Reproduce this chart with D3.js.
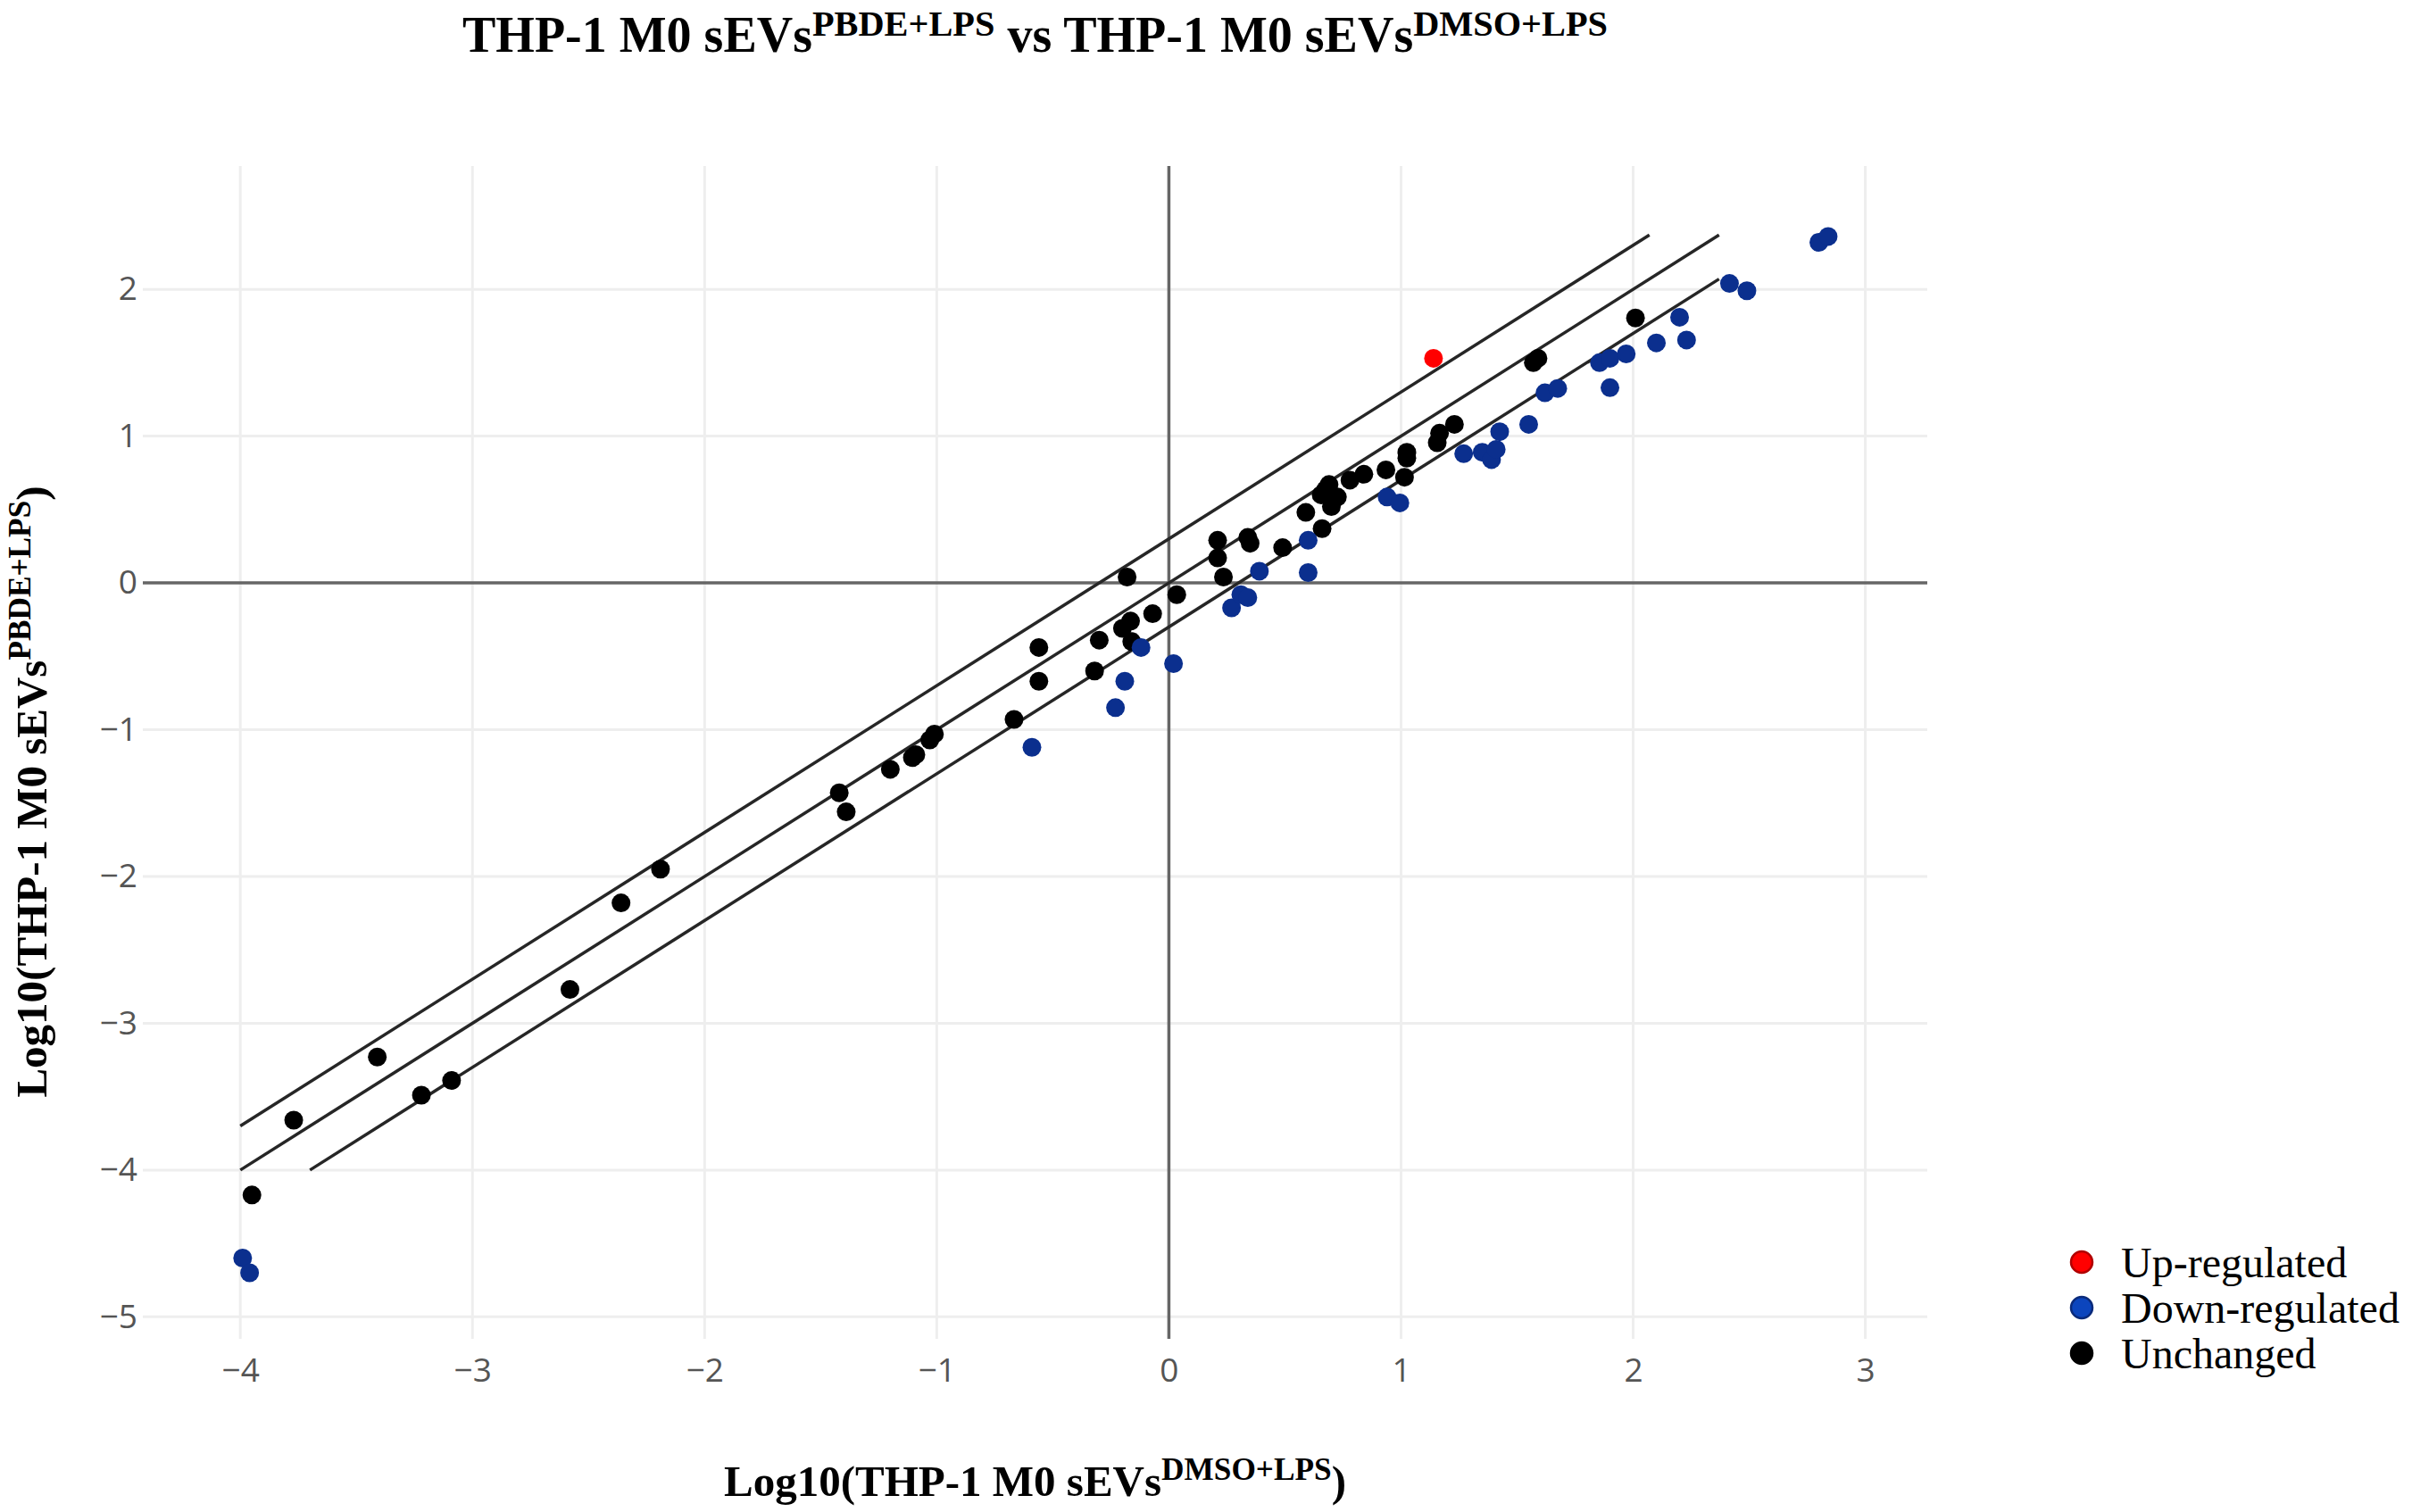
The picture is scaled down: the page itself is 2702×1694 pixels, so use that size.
<!DOCTYPE html>
<html>
<head>
<meta charset="utf-8">
<script src="https://cdn.jsdelivr.net/npm/d3@7"></script>
<style>
  body { margin: 0; background: #fff; }
</style>
</head>
<body>
<div id="chart"></div>
<script>
// values (log10 abundances)
const upX = [1.14]
const upY = [1.53]

const downX = [-3.99, -3.96, -0.59, -0.23, -0.19, -0.12, 0.02, 0.27, 0.31, 0.34, 0.39, 0.60, 0.60, 0.94, 0.995,
  1.27, 1.35, 1.39, 1.41, 1.425, 1.55, 1.62, 1.675, 1.855, 1.90, 1.90, 1.97, 2.10, 2.20, 2.23, 2.415, 2.49, 2.80, 2.84]
const downY = [-4.60, -4.70, -1.12, -0.85, -0.67, -0.44, -0.55, -0.17, -0.08, -0.10, 0.08, 0.29, 0.07, 0.585, 0.545,
  0.88, 0.89, 0.84, 0.91, 1.03, 1.08, 1.295, 1.325, 1.50, 1.53, 1.33, 1.56, 1.635, 1.81, 1.655, 2.04, 1.99, 2.32, 2.36]

const unchangedX = [-3.95, -3.77, -3.41, -3.22, -3.09, -2.58, -2.36, -2.19, -1.42, -1.39, -1.20, -1.105, -1.09, -1.03, -1.01,
  -0.667, -0.56, -0.56, -0.32, -0.30, -0.18, -0.20, -0.165, -0.16, -0.07, 0.034, 0.21, 0.21, 0.235, 0.34, 0.35, 0.49,
  0.59, 0.66, 0.656, 0.675, 0.69, 0.70, 0.726, 0.78, 0.84, 0.935, 1.015, 1.025, 1.025, 1.156, 1.166, 1.23, 1.57, 1.59, 2.01]
const unchangedY = [-4.17, -3.66, -3.23, -3.49, -3.39, -2.77, -2.18, -1.95, -1.43, -1.56, -1.27, -1.19, -1.17, -1.07, -1.03,
  -0.93, -0.44, -0.67, -0.60, -0.39, 0.04, -0.31, -0.26, -0.40, -0.21, -0.08, 0.29, 0.17, 0.04, 0.31, 0.27, 0.24,
  0.48, 0.37, 0.60, 0.635, 0.67, 0.52, 0.585, 0.70, 0.74, 0.77, 0.72, 0.89, 0.85, 0.955, 1.02, 1.08, 1.50, 1.53, 1.805]

// 2-fold guide lines: y = x + offset
const guideOffsets = [0.3, 0, -0.3]
const guideLimits = [-4, 2.37]

const xTicks = [-4, -3, -2, -1, 0, 1, 2, 3]
const yTicks = [-5, -4, -3, -2, -1, 0, 1, 2]

const legendLabels = ["Up-regulated", "Down-regulated", "Unchanged"]
const legendColors = ["#ff0000", "#0c45bd", "#000000"]
const legendStrokes = ["#b00000", "#0a2a7a", "#000000"]

const width = 2702
const height = 1694
const plot = { left: 160, right: 2159, top: 186, bottom: 1500 }
const serif = "'Liberation Serif', 'Times New Roman', serif"

const svg = d3.select("div#chart").append("svg").attr("width", width).attr("height", height)

const x = d3.scaleLinear().domain([-4.42, 3.267]).range([plot.left, plot.right])
const y = d3.scaleLinear().domain([-5.15, 2.84]).range([plot.bottom, plot.top])

// grid
const gridGroup = svg.append("g").attr("class", "gridGroup")
gridGroup.selectAll("line.vgrid").data(xTicks.filter(d => d !== 0)).join("line")
    .attr("class", "vgrid")
    .attr("x1", d => x(d)).attr("x2", d => x(d))
    .attr("y1", plot.top).attr("y2", plot.bottom)
    .attr("stroke", "#eeeeee").attr("stroke-width", 3)
gridGroup.selectAll("line.hgrid").data(yTicks.filter(d => d !== 0)).join("line")
    .attr("class", "hgrid")
    .attr("x1", plot.left).attr("x2", plot.right)
    .attr("y1", d => y(d)).attr("y2", d => y(d))
    .attr("stroke", "#eeeeee").attr("stroke-width", 3)

// zero lines
gridGroup.append("line")
    .attr("x1", x(0)).attr("x2", x(0)).attr("y1", plot.top).attr("y2", plot.bottom)
    .attr("stroke", "#666").attr("stroke-width", 3.5)
gridGroup.append("line")
    .attr("x1", plot.left).attr("x2", plot.right).attr("y1", y(0)).attr("y2", y(0))
    .attr("stroke", "#666").attr("stroke-width", 3.5)

// axes, only the labels are shown
const xAxis = d3.axisBottom(x).tickValues(xTicks).tickSize(0).tickPadding(0)
    .tickFormat(d => d3.format("")(d).replace("-", "\u2212"))
const yAxis = d3.axisLeft(y).tickValues(yTicks).tickSize(0).tickPadding(0)
    .tickFormat(d => d3.format("")(d).replace("-", "\u2212"))

const xAxisGroup = svg.append("g").attr("class", "xAxisGroup").attr("transform", `translate(0, ${plot.bottom + 15})`).call(xAxis)
const yAxisGroup = svg.append("g").attr("class", "yAxisGroup").attr("transform", `translate(${plot.left - 6}, 0)`).call(yAxis)
svg.selectAll(".xAxisGroup .domain, .yAxisGroup .domain").remove()
svg.selectAll(".xAxisGroup text, .yAxisGroup text")
    .attr("font-family", "'Open Sans', sans-serif").attr("font-size", 37).attr("fill", "#555")
svg.selectAll(".xAxisGroup text").attr("dy", "0.9em")

// guide lines
const guideGroup = svg.append("g").attr("class", "guideGroup")
guideOffsets.forEach(off => {
    const x1 = Math.max(guideLimits[0], guideLimits[0] - off)
    const x2 = Math.min(guideLimits[1], guideLimits[1] - off)
    guideGroup.append("line")
        .attr("x1", x(x1)).attr("y1", y(x1 + off))
        .attr("x2", x(x2)).attr("y2", y(x2 + off))
        .attr("stroke", "#262626").attr("stroke-width", 3.5)
})

// points
const pointGroup = svg.append("g").attr("class", "pointGroup")
const series = [
    { xs: unchangedX, ys: unchangedY, fill: "#000000" },
    { xs: downX, ys: downY, fill: "#0b2f8e" },
    { xs: upX, ys: upY, fill: "#ff0000" }
]
series.forEach(s => {
    pointGroup.selectAll(null).data(s.xs.map((d, i) => [d, s.ys[i]])).join("circle")
        .attr("cx", d => x(d[0]))
        .attr("cy", d => y(d[1]))
        .attr("r", 10.5)
        .attr("fill", s.fill)
})

// titles with superscripts
function supText(g, parts, size, raise) {
    const t = g.append("text").attr("font-family", serif).attr("font-weight", "bold")
        .attr("font-size", size).attr("fill", "#000").attr("text-anchor", "middle")
    parts.forEach(p => {
        if (p.sup) {
            t.append("tspan").attr("font-size", size * 0.72).attr("dy", -size * raise).text(p.text)
        } else {
            t.append("tspan").attr("dy", p.back ? size * raise : 0).text(p.text)
        }
    })
    return t
}

const cx = (plot.left + plot.right) / 2
supText(svg.append("g").attr("transform", `translate(${cx}, 58)`), [
    { text: "THP-1 M0 sEVs" }, { text: "PBDE+LPS", sup: true },
    { text: " vs THP-1 M0 sEVs", back: true }, { text: "DMSO+LPS", sup: true }
], 56, 0.33)

supText(svg.append("g").attr("transform", `translate(${cx}, 1676)`), [
    { text: "Log10(THP-1 M0 sEVs" }, { text: "DMSO+LPS", sup: true }, { text: ")", back: true }
], 49, 0.36)

supText(svg.append("g").attr("transform", `translate(52, 887) rotate(-90)`), [
    { text: "Log10(THP-1 M0 sEVs" }, { text: "PBDE+LPS", sup: true }, { text: ")", back: true }
], 49, 0.36)

// legend
const legend = svg.append("g").attr("class", "legend").attr("transform", "translate(2332, 1414)")
legendLabels.forEach((lab, i) => {
    const row = legend.append("g").attr("transform", `translate(0, ${i * 51})`)
    row.append("circle").attr("r", 12).attr("fill", legendColors[i])
        .attr("stroke", legendStrokes[i]).attr("stroke-width", 2.5)
    row.append("text").attr("x", 44).attr("y", 17)
        .attr("font-family", serif).attr("font-size", 48).attr("fill", "#000").text(lab)
})
</script>
</body>
</html>
